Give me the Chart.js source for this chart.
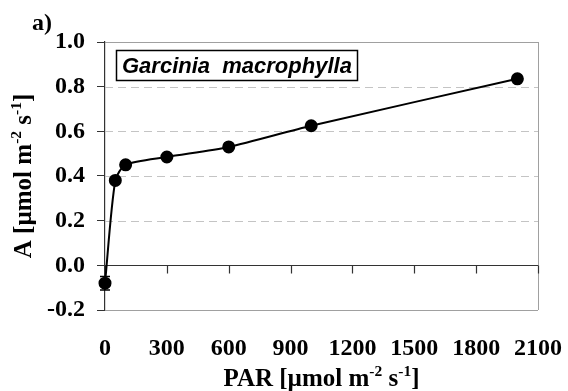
<!DOCTYPE html>
<html>
<head>
<meta charset="utf-8">
<script src="https://cdn.jsdelivr.net/npm/chart.js@4"></script>
<style>
  html, body { margin: 0; padding: 0; background: #fff; }
  #wrap { width: 568px; height: 391px; position: relative; }
</style>
</head>
<body>
<div id="wrap"><canvas id="chart" width="568" height="391"></canvas></div>
<script>
// Light response of net photosynthesis
const parValues = [0, 50, 100, 300, 600, 1000, 2000];
const aValues = [-0.08, 0.38, 0.45, 0.485, 0.53, 0.625, 0.835];
const aErrors = [0.03, 0.008, 0.008, 0.008, 0.008, 0.013, 0.008];
const xTicks = [0, 300, 600, 900, 1200, 1500, 1800, 2100];
const yTicks = [-0.2, 0.0, 0.2, 0.4, 0.6, 0.8, 1.0];
const speciesName = 'Garcinia  macrophylla';
const panelLabel = 'a)';

const serif = '"Liberation Serif", "Times New Roman", serif';
const sans = '"Liberation Sans", Arial, sans-serif';

// text with superscripts, parts = [[text, isSup], ...]
function richWidth(ctx, parts, size) {
  let w = 0;
  parts.forEach(p => {
    ctx.font = 'bold ' + (p[1] ? size * 0.62 : size) + 'px ' + serif;
    w += ctx.measureText(p[0]).width;
  });
  return w;
}
function drawRich(ctx, parts, x, y, size) {
  parts.forEach(p => {
    ctx.font = 'bold ' + (p[1] ? size * 0.62 : size) + 'px ' + serif;
    ctx.fillText(p[0], x, p[1] ? y - size * 0.4 : y);
    x += ctx.measureText(p[0]).width;
  });
}

const unitParts = [['[µmol m', false], ['-2', true], [' s', false], ['-1', true], [']', false]];

const decorations = {
  id: 'decorations',
  beforeDatasetsDraw(chart) {
    const ctx = chart.ctx;
    const { left, right, top, bottom } = chart.chartArea;
    const xs = chart.scales.x, ys = chart.scales.y;
    ctx.save();
    // dashed interior gridlines
    ctx.strokeStyle = '#c4c4c4';
    ctx.lineWidth = 1;
    ctx.setLineDash([8, 5]);
    ctx.beginPath();
    yTicks.forEach(v => {
      if (v <= -0.2 || v >= 1.0 || Math.abs(v) < 1e-9) return;
      const py = Math.round(ys.getPixelForValue(v)) + 0.5;
      ctx.moveTo(left, py);
      ctx.lineTo(right, py);
    });
    ctx.stroke();
    ctx.setLineDash([]);
    // right frame
    ctx.strokeStyle = '#a0a0a0';
    ctx.beginPath();
    ctx.moveTo(Math.round(right) + 0.5, top);
    ctx.lineTo(Math.round(right) + 0.5, bottom);
    ctx.stroke();
    // x axis along A = 0 with ticks hanging below
    const y0 = Math.round(ys.getPixelForValue(0)) + 0.5;
    ctx.strokeStyle = '#333';
    ctx.lineWidth = 1.2;
    ctx.beginPath();
    ctx.moveTo(left, y0);
    ctx.lineTo(right, y0);
    xTicks.forEach(v => {
      const px = Math.round(xs.getPixelForValue(v)) + 0.5;
      ctx.moveTo(px, y0);
      ctx.lineTo(px, y0 + 8);
    });
    ctx.stroke();
    ctx.restore();
  },
  afterDatasetsDraw(chart) {
    const ctx = chart.ctx;
    const xs = chart.scales.x, ys = chart.scales.y;
    ctx.save();
    // error bars
    ctx.strokeStyle = '#000';
    ctx.lineWidth = 1.5;
    parValues.forEach((v, i) => {
      const px = xs.getPixelForValue(v);
      const hi = ys.getPixelForValue(aValues[i] + aErrors[i]);
      const lo = ys.getPixelForValue(aValues[i] - aErrors[i]);
      ctx.beginPath();
      ctx.moveTo(px, hi); ctx.lineTo(px, lo);
      ctx.moveTo(px - 5, hi); ctx.lineTo(px + 5, hi);
      ctx.moveTo(px - 5, lo); ctx.lineTo(px + 5, lo);
      ctx.stroke();
    });
    ctx.restore();
  },
  afterDraw(chart) {
    const ctx = chart.ctx;
    const { left, right, top, bottom } = chart.chartArea;
    ctx.save();
    ctx.fillStyle = '#000';
    ctx.textBaseline = 'alphabetic';

    // panel letter
    ctx.font = 'bold 24px ' + serif;
    ctx.fillText(panelLabel, 32, 30);

    // species box
    ctx.fillStyle = '#fff';
    ctx.fillRect(116, 50, 242, 31);
    ctx.strokeStyle = '#000';
    ctx.lineWidth = 1.5;
    ctx.strokeRect(116.5, 50.5, 241, 30);
    ctx.fillStyle = '#000';
    ctx.font = 'italic bold 22px ' + sans;
    ctx.fillText(speciesName, 122, 73);

    // x title
    const size = 25;
    const xParts = [['PAR ', false]].concat(unitParts);
    const wx = richWidth(ctx, xParts, size);
    drawRich(ctx, xParts, (left + right) / 2 - wx / 2, 386, size);

    // y title
    const yParts = [['A ', false]].concat(unitParts);
    const wy = richWidth(ctx, yParts, size);
    ctx.translate(31, (top + bottom) / 2);
    ctx.rotate(-Math.PI / 2);
    drawRich(ctx, yParts, -wy / 2, 0, size);
    ctx.restore();
  }
};

new Chart(document.getElementById('chart'), {
  type: 'scatter',
  data: {
    datasets: [{
      data: parValues.map((x, i) => ({ x: x, y: aValues[i] })),
      showLine: true,
      borderColor: '#000',
      backgroundColor: '#000',
      borderWidth: 2,
      pointRadius: 5.5,
      tension: 0.25,
      clip: false
    }]
  },
  options: {
    responsive: false,
    animation: false,
    layout: { padding: { top: 42, right: 30, left: 0, bottom: 0 } },
    plugins: { legend: { display: false }, tooltip: { enabled: false } },
    scales: {
      x: {
        type: 'linear',
        min: 0, max: 2100,
        afterBuildTicks: s => { s.ticks = xTicks.map(v => ({ value: v })); },
        afterFit: s => {
          s.height = 81;
          s.paddingLeft = 0;
          s.paddingRight = 0;
        },
        grid: { display: false },
        border: { display: false },
        ticks: {
          color: '#000',
          font: { family: serif, size: 24, weight: 'bold' },
          padding: 16,
          maxRotation: 0,
          autoSkip: false,
          callback: v => String(v)
        }
      },
      y: {
        min: -0.2, max: 1.0,
        afterBuildTicks: s => { s.ticks = yTicks.map(v => ({ value: v })); },
        afterFit: s => {
          s.width = 105;
          s.paddingTop = 0;
          s.paddingBottom = 0;
        },
        border: { display: true, color: '#333', width: 1.2 },
        grid: {
          drawTicks: true,
          tickLength: 8,
          tickColor: '#333',
          // only the top and bottom frame lines come from the grid
          color: c => {
            const v = c.tick ? c.tick.value : null;
            return (v !== null && (v <= -0.2 + 1e-9 || v >= 1.0 - 1e-9)) ? '#a0a0a0' : 'rgba(0,0,0,0)';
          },
          lineWidth: 1
        },
        ticks: {
          color: '#000',
          font: { family: serif, size: 24, weight: 'bold' },
          padding: 12,
          callback: v => v.toFixed(1)
        }
      }
    }
  },
  plugins: [decorations]
});
</script>
</body>
</html>
